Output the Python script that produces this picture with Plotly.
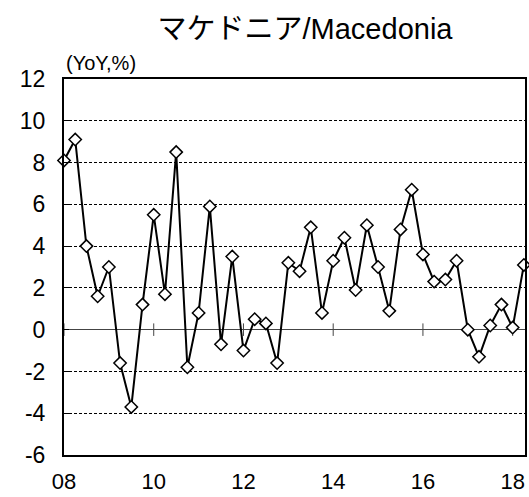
import plotly.graph_objects as go

quarters = [f"{y:02d}Q{q}" for y in range(8, 19) for q in range(1, 5)][:42]
yoy = [8.1, 9.1, 4.0, 1.6, 3.0, -1.6, -3.7, 1.2, 5.5, 1.7, 8.5, -1.8, 0.8, 5.9,
       -0.7, 3.5, -1.0, 0.5, 0.3, -1.6, 3.2, 2.8, 4.9, 0.8, 3.3, 4.4, 1.9, 5.0,
       3.0, 0.9, 4.8, 6.7, 3.6, 2.3, 2.4, 3.3, 0.0, -1.3, 0.2, 1.2, 0.1, 3.1]
tick_cats = ["08Q1", "10Q1", "12Q1", "14Q1", "16Q1", "18Q1"]
tick_text = ["08", "10", "12", "14", "16", "18"]
y_ticks = [-6, -4, -2, 0, 2, 4, 6, 8, 10, 12]
y_text = [str(v) for v in y_ticks]

font = "Liberation Sans, Arial, Noto Sans CJK JP, sans-serif"

fig = go.Figure()
fig.add_trace(go.Scatter(
    x=quarters, y=yoy, mode="lines+markers",
    line=dict(color="black", width=2),
    marker=dict(symbol="diamond", size=9.5, color="white",
                line=dict(color="black", width=1.5)),
    showlegend=False, cliponaxis=False,
))

# tick marks crossing the zero line
for c in tick_cats:
    fig.add_shape(type="line", xref="x", yref="y", x0=c, x1=c, y0=-0.3, y1=0.3,
                  line=dict(color="#444", width=1), layer="below")

fig.update_layout(
    width=529, height=497,
    margin=dict(l=64, r=4, t=79, b=42, autoexpand=False),
    paper_bgcolor="white", plot_bgcolor="white",
    font=dict(family=font, size=23, color="black"),
    title=dict(text="マケドニア/Macedonia", x=305 / 529, xanchor="center",
               xref="container", y=1 - 29 / 497, yanchor="middle",
               yref="container", font=dict(size=29, family=font)),
    xaxis=dict(type="category", categoryorder="array", categoryarray=quarters,
               range=[0, 41.1], tickvals=tick_cats, ticktext=tick_text,
               showgrid=False, ticks="", showline=True, linecolor="black",
               linewidth=2, mirror=True, ticklabelstandoff=6,
               automargin=False, tickfont=dict(size=22)),
    yaxis=dict(range=[-6, 12], tickvals=y_ticks, ticktext=y_text,
               showgrid=True, gridcolor="black", gridwidth=1,
               griddash="3px,2px", zeroline=True, zerolinecolor="#444",
               zerolinewidth=1, showline=True, linecolor="black", linewidth=2,
               mirror=True, ticks="inside", ticklen=5, tickcolor="black",
               ticklabelstandoff=12, automargin=False,
               tickfont=dict(size=23)),
    annotations=[dict(text="(YoY,%)", xref="paper", yref="paper", x=0, y=1,
                      xanchor="left", yanchor="bottom", yshift=3, showarrow=False,
                      font=dict(size=20, family=font))],
)

fig.write_html("out.html", config={"displayModeBar": False},
               post_script="document.body.style.margin='0';"
                           "document.body.style.overflow='hidden';")
